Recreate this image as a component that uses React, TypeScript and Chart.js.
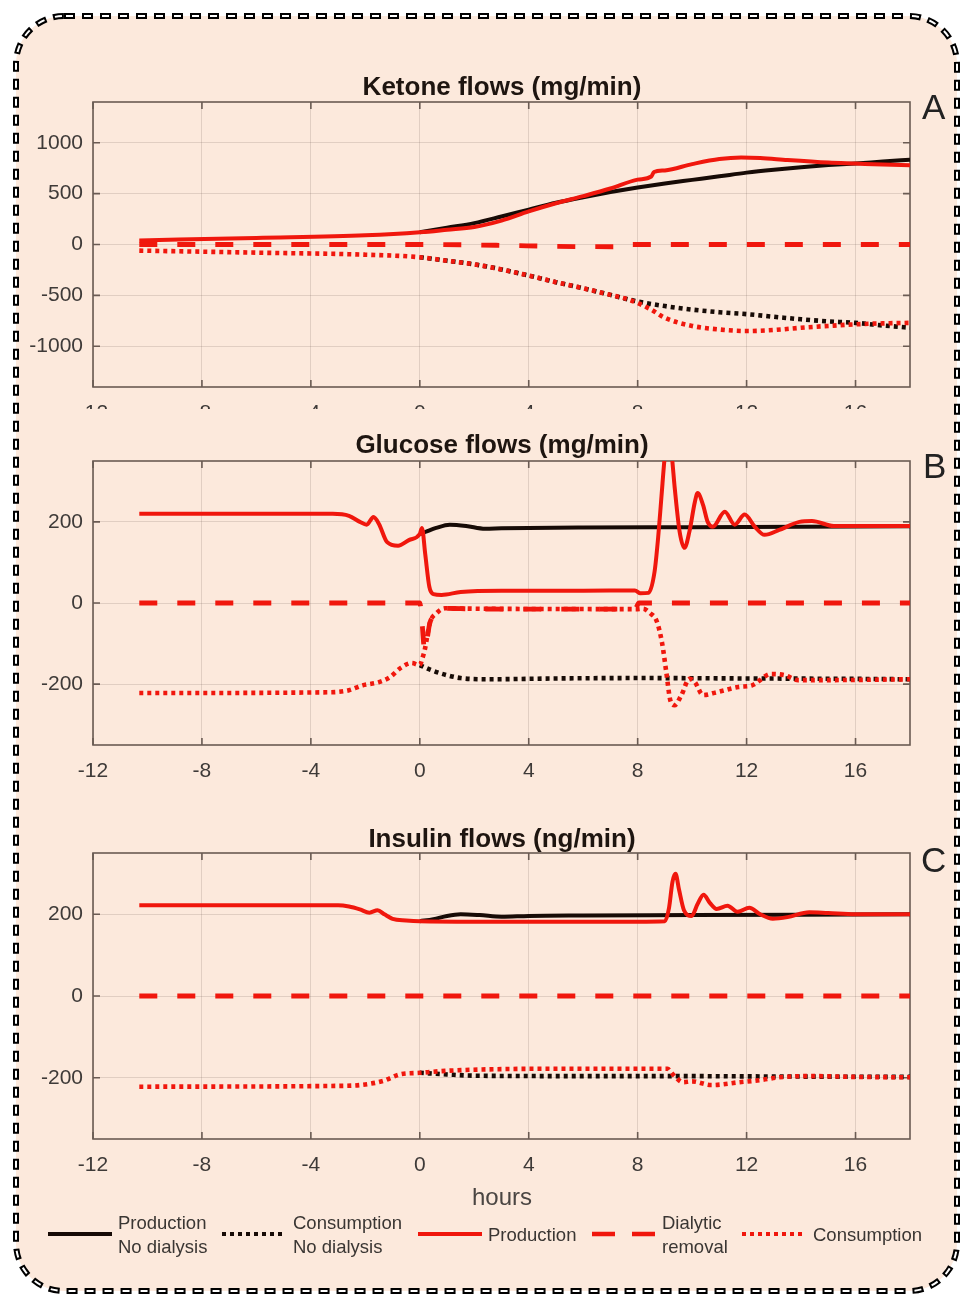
import React, { useEffect, useRef } from "react";
import { Chart, registerables } from "chart.js";
Chart.register(...registerables);

const RED = "#f0170d";
const BLACK = "#170b06";
const PEACH = "#fce9dc";

const X_TICKS = [-12, -8, -4, 0, 4, 8, 12, 16];
const KET_Y_TICKS = [-1000, -500, 0, 500, 1000];
const GLU_Y_TICKS = [-200, 0, 200];
const INS_Y_TICKS = [-200, 0, 200];

// ---------- Ketone (A) ----------
const ketProdT = [-10.3, -6, -2, 0, 1, 2, 3, 4, 5, 6, 7, 8, 8.5, 8.6, 9, 10, 11, 11.8, 12.5, 13.5, 15, 16, 17, 18];
const ketProdV = [40, 65, 90, 120, 145, 172, 235, 325, 405, 475, 550, 637, 668, 712, 728, 790, 840, 855, 850, 830, 805, 795, 785, 778];
const ketProdNoT = [0, 1, 2, 3, 4, 5, 6, 7, 8, 9, 10, 11, 12, 13, 14, 15, 16, 17, 18];
const ketProdNoV = [120, 165, 210, 275, 343, 410, 465, 515, 560, 600, 635, 670, 706, 735, 760, 780, 795, 815, 833];
const ketDialT = [-10.3, 0, 3, 5, 7.6, 7.8, 18];
const ketDialV = [0, 0, -8, -18, -22, 0, 0];
const ketConsT = [-10.3, -6, -2, 0, 1, 2, 3, 4, 5, 6, 7, 7.6, 8, 8.5, 9, 10, 11, 12, 13, 14, 15, 16, 17, 18];
const ketConsV = [-60, -80, -100, -125, -160, -195, -245, -305, -370, -430, -495, -535, -575, -640, -720, -800, -835, -850, -840, -818, -800, -784, -775, -770];
const ketConsNoT = [0, 1, 2, 3, 4, 5, 6, 7, 8, 9, 10, 11, 12, 13, 14, 15, 16, 17, 18];
const ketConsNoV = [-125, -160, -195, -245, -305, -370, -430, -495, -560, -605, -640, -665, -684, -710, -735, -755, -770, -795, -818];

// ---------- Glucose (B) ----------
const gluProdT = [-10.3, -3.2, -2.6, -2.2, -1.95, -1.7, -1.5, -1.2, -0.8, -0.4, 0, 0.08, 0.2, 0.35, 0.5, 0.8, 1.5, 3, 6, 7.9, 8.1, 8.4, 8.62, 8.75, 8.87, 9.0, 9.12, 9.25, 9.36, 9.54, 9.72, 9.9, 10.1, 10.2, 10.4, 10.57, 10.76, 11.2, 11.56, 11.93, 12.3, 12.66, 13.2, 13.94, 14.4, 15.2, 18];
const gluProdV = [220, 220, 215, 200, 193, 212, 195, 150, 141, 155, 170, 185, 120, 40, 22, 20, 27, 30, 30, 31, 24, 25, 77, 160, 259, 365, 420, 365, 284, 176, 136, 176, 249, 271, 242, 200, 188, 225, 193, 218, 188, 168, 180, 200, 202, 190, 190];
const gluProdNoT = [0, 0.2, 0.6, 1.1, 1.7, 2.4, 3, 4, 6, 10, 14, 18];
const gluProdNoV = [170, 175, 185, 193, 190, 183, 184, 185, 186, 187, 188, 189];
const gluDialT = [-10.3, 0, 0.05, 0.18, 0.37, 0.62, 0.92, 1.5, 3, 7.9, 8.05, 18];
const gluDialV = [0, 0, -20, -116, -49, -25, -13, -14, -15, -15, 0, 0];
const gluConsT = [-10.3, -3.3, -2.6, -2.1, -1.5, -1.1, -0.7, -0.3, 0, 0.1, 0.18, 0.37, 0.62, 0.92, 2, 8, 8.2, 8.45, 8.7, 8.9, 9.05, 9.2, 9.35, 9.6, 9.9, 10.1, 10.4, 10.9, 11.7, 12.2, 12.9, 13.4, 13.9, 15, 18];
const gluConsV = [-222, -220, -215, -203, -195, -183, -160, -148, -153, -135, -116, -49, -25, -13, -14, -15, -14, -25, -45, -100, -170, -240, -252, -228, -187, -195, -227, -220, -207, -203, -175, -178, -190, -190, -188];
const gluConsNoT = [0, 0.4, 1, 1.5, 2.5, 5, 8, 12, 16, 18];
const gluConsNoV = [-153, -165, -178, -185, -188, -186, -185, -186, -187, -188];

// ---------- Insulin (C) ----------
const insProdT = [-10.3, -3, -2.6, -2.2, -1.85, -1.55, -1.3, -1.0, -0.5, 0, 2, 5, 8, 9.0, 9.15, 9.28, 9.39, 9.52, 9.7, 9.98, 10.2, 10.42, 10.65, 10.9, 11.3, 11.67, 12.1, 12.5, 12.96, 13.5, 14.3, 15, 16, 18];
const insProdV = [222, 222, 219, 212, 204, 210, 200, 189, 185, 183, 182, 182, 182, 183, 215, 280, 299, 260, 210, 196, 225, 248, 228, 213, 221, 206, 216, 200, 189, 193, 205, 203, 200, 200];
const insProdNoT = [0, 0.5, 1, 1.5, 2.2, 3, 4, 6, 10, 14, 18];
const insProdNoV = [183, 188, 196, 200, 198, 194, 196, 197, 198, 199, 200];
const insDialT = [-10.3, 18];
const insDialV = [0, 0];
const insConsT = [-10.3, -3, -2.2, -1.35, -0.73, 0, 1, 2.2, 5, 9.1, 9.2, 9.4, 9.66, 10.0, 10.7, 11.74, 12.5, 13.2, 14.3, 16, 18];
const insConsV = [-222, -220, -218, -208, -192, -188, -183, -180, -178, -178, -185, -199, -211, -209, -218, -211, -206, -199, -196, -198, -199];
const insConsNoT = [0, 1, 2, 5, 9, 13, 18];
const insConsNoV = [-188, -192, -195, -196, -196, -197, -198];

type Style = "solid" | "dash" | "dot";
type Series = { t: number[]; v: number[]; color: string; style: Style; order: number };

function mk(t: number[], v: number[], color: string, style: Style, order: number): Series {
  return { t, v, color, style, order };
}

const ketSeries: Series[] = [
  mk(ketProdNoT, ketProdNoV, BLACK, "solid", 2),
  mk(ketConsNoT, ketConsNoV, BLACK, "dot", 2),
  mk(ketProdT, ketProdV, RED, "solid", 1),
  mk(ketDialT, ketDialV, RED, "dash", 1),
  mk(ketConsT, ketConsV, RED, "dot", 1),
];
const gluSeries: Series[] = [
  mk(gluProdNoT, gluProdNoV, BLACK, "solid", 2),
  mk(gluConsNoT, gluConsNoV, BLACK, "dot", 2),
  mk(gluProdT, gluProdV, RED, "solid", 1),
  mk(gluDialT, gluDialV, RED, "dash", 1),
  mk(gluConsT, gluConsV, RED, "dot", 1),
];
const insSeries: Series[] = [
  mk(insProdNoT, insProdNoV, BLACK, "solid", 2),
  mk(insConsNoT, insConsNoV, BLACK, "dot", 2),
  mk(insProdT, insProdV, RED, "solid", 1),
  mk(insDialT, insDialV, RED, "dash", 1),
  mk(insConsT, insConsV, RED, "dot", 1),
];

const FONT = "'Liberation Sans', Arial, Helvetica, sans-serif";
const GRID = "rgba(90,70,60,0.16)";
const AXIS = "#6a5b53";
const TICK_TXT = "#3e3a38";

const boxPlugin = {
  id: "box",
  beforeDatasetsDraw(chart: any) {
    const { ctx, chartArea: a, scales } = chart;
    ctx.save();
    ctx.strokeStyle = AXIS;
    ctx.lineWidth = 1.6;
    ctx.strokeRect(a.left, a.top, a.right - a.left, a.bottom - a.top);
    const L = 7;
    ctx.beginPath();
    for (const tk of scales.x.ticks) {
      const px = scales.x.getPixelForValue(tk.value);
      ctx.moveTo(px, a.bottom);
      ctx.lineTo(px, a.bottom - L);
      ctx.moveTo(px, a.top);
      ctx.lineTo(px, a.top + L);
    }
    for (const tk of scales.y.ticks) {
      const py = scales.y.getPixelForValue(tk.value);
      ctx.moveTo(a.left, py);
      ctx.lineTo(a.left + L, py);
      ctx.moveTo(a.right, py);
      ctx.lineTo(a.right - L, py);
    }
    ctx.stroke();
    ctx.restore();
  },
};

type PanelProps = {
  top: number;
  plotH: number;
  clipH: number;
  yMin: number;
  yMax: number;
  yTicks: number[];
  series: Series[];
};

function Panel({ top, plotH, clipH, yMin, yMax, yTicks, series }: PanelProps) {
  const ref = useRef<HTMLCanvasElement>(null);
  const H = 10 + plotH + 50;
  useEffect(() => {
    if (!ref.current) return;
    const chart = new Chart(ref.current, {
      type: "line",
      data: {
        datasets: series.map((s) => ({
          data: s.t.map((x, i) => ({ x, y: s.v[i] })),
          borderColor: s.color,
          borderWidth: s.style === "solid" ? 4 : s.style === "dash" ? 4.8 : 4.6,
          borderDash: s.style === "dash" ? [18, 20] : s.style === "dot" ? [4, 4] : [],
          borderCapStyle: "butt",
          borderJoinStyle: "round",
          pointRadius: 0,
          fill: false,
          cubicInterpolationMode: "monotone",
          order: s.order,
          clip: 0,
        })),
      },
      options: {
        responsive: false,
        animation: false,
        events: [],
        layout: { padding: { top: 10, right: 54, left: 0, bottom: 0 } },
        plugins: { legend: { display: false }, tooltip: { enabled: false }, title: { display: false } },
        scales: {
          x: {
            type: "linear",
            min: -12,
            max: 18,
            afterBuildTicks: (s: any) => {
              s.ticks = X_TICKS.map((v) => ({ value: v }));
            },
            afterFit: (s: any) => {
              s.height = 50;
              s.paddingLeft = 0;
              s.paddingRight = 0;
            },
            grid: { color: GRID, lineWidth: 1, drawTicks: false },
            border: { display: false },
            ticks: {
              padding: 14,
              color: TICK_TXT,
              font: { family: FONT, size: 21 },
              maxRotation: 0,
              autoSkip: false,
              callback: (v: any) => String(v),
            },
          },
          y: {
            type: "linear",
            min: yMin,
            max: yMax,
            afterBuildTicks: (s: any) => {
              s.ticks = yTicks.map((v) => ({ value: v }));
            },
            afterFit: (s: any) => {
              s.width = 93;
              s.paddingTop = 0;
              s.paddingBottom = 0;
            },
            grid: { color: GRID, lineWidth: 1, drawTicks: false },
            border: { display: false },
            ticks: {
              padding: 10,
              color: TICK_TXT,
              font: { family: FONT, size: 21 },
              callback: (v: any) => String(v),
            },
          },
        },
      },
      plugins: [boxPlugin],
    } as any);
    return () => chart.destroy();
  }, []);
  return (
    <div style={{ position: "absolute", left: 0, top, width: 964, height: clipH, overflow: "hidden" }}>
      <canvas ref={ref} width={964} height={H} style={{ display: "block", width: 964, height: H }} />
    </div>
  );
}

const titleStyle = { fontFamily: FONT, fontWeight: 700, fontSize: 26, fill: "#1e1510" } as any;
const letterStyle = { fontFamily: FONT, fontSize: 35, fill: "#222" } as any;
const legStyle = { fontFamily: FONT, fontSize: 18.5, fill: "#3a3633" } as any;

export default function App() {
  return (
    <div style={{ position: "absolute", left: 0, top: 0, width: 964, height: 1297, background: "#ffffff", overflow: "hidden" }}>
      <svg width={964} height={1297} style={{ position: "absolute", left: 0, top: 0 }}>
        <rect x={16} y={16} width={941} height={1275} rx={48} ry={48} fill={PEACH} stroke="#000" strokeWidth={6} strokeDasharray="11 7" />
        <rect x={16} y={16} width={941} height={1275} rx={48} ry={48} fill="none" stroke="#ffffff" strokeWidth={2} strokeDasharray="7 11" strokeDashoffset={-2} />
      </svg>
      <Panel top={92} plotH={285} clipH={317} yMin={-1400} yMax={1400} yTicks={KET_Y_TICKS} series={ketSeries} />
      <Panel top={451} plotH={284} clipH={346} yMin={-350} yMax={350} yTicks={GLU_Y_TICKS} series={gluSeries} />
      <Panel top={843} plotH={286} clipH={346} yMin={-350} yMax={350} yTicks={INS_Y_TICKS} series={insSeries} />
      <svg width={964} height={1297} style={{ position: "absolute", left: 0, top: 0, pointerEvents: "none" }}>
        <text x={502} y={95} textAnchor="middle" style={titleStyle}>Ketone flows (mg/min)</text>
        <text x={502} y={453} textAnchor="middle" style={titleStyle}>Glucose flows (mg/min)</text>
        <text x={502} y={847} textAnchor="middle" style={titleStyle}>Insulin flows (ng/min)</text>
        <text x={922} y={119} style={letterStyle}>A</text>
        <text x={923} y={478} style={letterStyle}>B</text>
        <text x={921} y={872} style={letterStyle}>C</text>
        <text x={502} y={1205} textAnchor="middle" style={{ fontFamily: FONT, fontSize: 24, fill: "#4a4542" }}>hours</text>

        <line x1={48} x2={112} y1={1234} y2={1234} stroke={BLACK} strokeWidth={4} />
        <text x={118} y={1229} style={legStyle}>Production</text>
        <text x={118} y={1253} style={legStyle}>No dialysis</text>

        <line x1={222} x2={286} y1={1234} y2={1234} stroke={BLACK} strokeWidth={4} strokeDasharray="4 4" />
        <text x={293} y={1229} style={legStyle}>Consumption</text>
        <text x={293} y={1253} style={legStyle}>No dialysis</text>

        <line x1={418} x2={482} y1={1234} y2={1234} stroke={RED} strokeWidth={4} />
        <text x={488} y={1241} style={legStyle}>Production</text>

        <line x1={592} x2={655} y1={1234} y2={1234} stroke={RED} strokeWidth={4.5} strokeDasharray="23 17" />
        <text x={662} y={1229} style={legStyle}>Dialytic</text>
        <text x={662} y={1253} style={legStyle}>removal</text>

        <line x1={742} x2={805} y1={1234} y2={1234} stroke={RED} strokeWidth={4} strokeDasharray="4 4" />
        <text x={813} y={1241} style={legStyle}>Consumption</text>
      </svg>
    </div>
  );
}
